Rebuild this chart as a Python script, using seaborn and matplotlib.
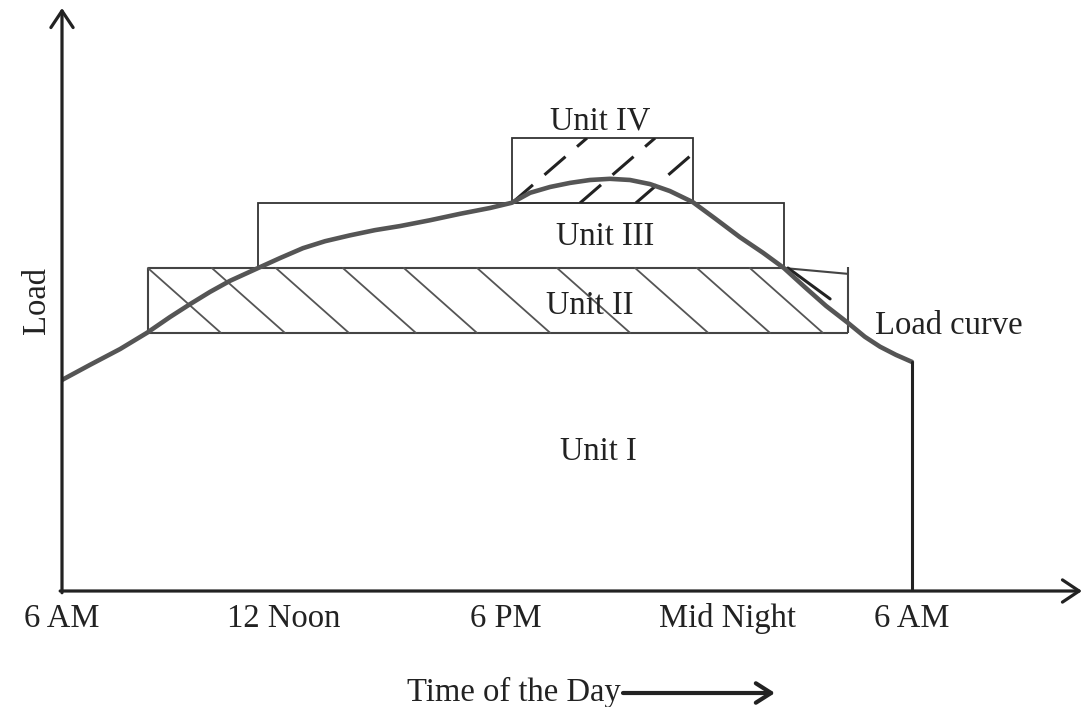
import numpy as np
import pandas as pd
import matplotlib
matplotlib.use('Agg')
import matplotlib.pyplot as plt
import seaborn as sns
from matplotlib.patches import Rectangle

# load curve, x in hours after 6 AM, y in % of axis height
curve_hour = [0.0, 0.76, 1.57, 2.30, 2.92, 3.46, 4.00, 4.54, 5.30, 5.89, 6.51, 7.11, 7.78,
              8.46, 9.14, 9.95, 10.76, 11.57, 12.16, 12.65, 13.19, 13.73, 14.27, 14.81, 15.35,
              15.89, 16.43, 17.05, 17.65, 18.32, 18.95, 19.51, 20.08, 20.65, 21.24, 21.70,
              22.11, 22.54, 22.97]
curve_load = [36.2, 38.8, 41.5, 44.3, 47.0, 49.2, 51.3, 53.2, 55.4, 57.1, 58.8, 60.0, 61.0,
              61.9, 62.6, 63.6, 64.7, 65.7, 66.6, 68.3, 69.3, 70.0, 70.5, 70.7, 70.5,
              69.8, 68.6, 66.7, 63.9, 60.7, 58.0, 55.4, 52.1, 48.9, 46.0, 43.6,
              41.9, 40.5, 39.3]

# unit blocks (Unit II, III, IV); Unit I is everything below the curve
block_names = ['Unit II', 'Unit III', 'Unit IV']
block_start = [2.32, 5.30, 12.16]
block_end = [21.24, 19.51, 17.05]
block_low = [44.3, 55.4, 66.55]
block_high = [55.4, 66.55, 77.7]

# hatch lines (where each stroke starts along the block edge)
hatch2_top = [2.32, 4.05, 5.78, 7.59, 9.24, 11.22, 13.38, 15.49, 17.16, 18.59]
hatch4_base = [12.16, 14.0, 15.51]

tick_pos = [0, 6, 12, 18, 22.97]
tick_labels = ['6 AM', '12 Noon', '6 PM', 'Mid Night', '6 AM']

sns.set_theme(style='white')
plt.rcParams['font.family'] = ['Liberation Serif', 'DejaVu Serif']
plt.rcParams['lines.scale_dashes'] = False
fs = 23.5
ink = '#222222'

fig = plt.figure(figsize=(10.89, 7.07), dpi=100)
W, H = 1089, 707
ax = fig.add_axes([62 / W, (H - 591) / H, (1082 - 62) / W, (591 - 8) / H])
ax.set_xlim(0, (1082 - 62) / 37)
ax.set_ylim(0, 100)
for s in ax.spines.values():
    s.set_visible(False)

# axes as arrows
arr = dict(arrowstyle='->,head_length=0.6,head_width=0.4', lw=2.3, color=ink,
           shrinkA=0, shrinkB=0, mutation_scale=20)
ax.annotate('', xy=(0, 100), xytext=(0, -0.3), arrowprops=arr, annotation_clip=False)
ax.annotate('', xy=(ax.get_xlim()[1], 0), xytext=(-0.05, 0), arrowprops=arr, annotation_clip=False)

# unit blocks
box_kw = dict(color='#444444', lw=1.5, solid_capstyle='butt')
# Unit II outline (hand drawn, top right corner is slightly skewed)
x0, x1, y0, y1 = block_start[0], block_end[0], block_low[0], block_high[0]
ax.plot([x0, x1], [y0, y0], **box_kw)
ax.plot([x0, x0], [y0, y1], **box_kw)
ax.plot([x0, block_end[1]], [y1, y1], **box_kw)
ax.plot([block_end[1], x1], [y1, y1 - 1.0], **box_kw)
ax.plot([x1, x1], [y0, y1 + 0.2], **box_kw)
for i in [1, 2]:
    ax.add_patch(Rectangle((block_start[i], block_low[i]), block_end[i] - block_start[i],
                           block_high[i] - block_low[i], fill=False, ec='#333333', lw=1.3))

# Unit II hatch
for t in hatch2_top:
    ax.plot([t, t + 1.97], [y1, y0], color='#555555', lw=1.3)
ax.plot([19.62, 20.76], [55.4, 50.1], color=ink, lw=2.2)

# Unit IV dashed hatch
bx0, bx1, by0, by1 = block_start[2], block_end[2], block_low[2], block_high[2]
clip = Rectangle((bx0, by0), bx1 - bx0, by1 - by0, transform=ax.transData, fill=False)
for b in hatch4_base:
    ln, = ax.plot([b, b + 2.03], [by0, by1], color=ink, lw=2.2, dashes=(20, 11))
    ln.set_clip_path(clip)

# load curve
sns.lineplot(x=curve_hour, y=curve_load, ax=ax, color='#555555', lw=3.3, sort=False,
             estimator=None, solid_joinstyle='round', solid_capstyle='round')
ax.plot([curve_hour[-1], curve_hour[-1]], [0, curve_load[-1]], color=ink, lw=2.2)

# labels
tk = dict(fontsize=fs, color=ink, ha='center', va='center')
ax.text(14.54, 80.6, 'Unit IV', **tk)
ax.text(14.68, 60.7, 'Unit III', **tk)
ax.text(14.27, 48.9, 'Unit II', **tk)
ax.text(14.49, 23.8, 'Unit I', **tk)
ax.text(21.97, 45.5, 'Load curve', fontsize=fs, color=ink, ha='left', va='center')

ax.set_xticks(tick_pos)
ax.set_xticklabels(tick_labels, fontsize=fs, color=ink)
ax.set_yticks([])
ax.tick_params(axis='x', length=0, pad=9)

fig.text(37 / W, 1 - 300 / H, 'Load', rotation=90, fontsize=fs, color=ink, ha='center', va='center')
fig.text(407 / W, 1 - 692 / H, 'Time of the Day', fontsize=fs, color=ink, ha='left', va='center')
ax.annotate('', xy=(775 / W, 1 - 693 / H), xytext=(623 / W, 1 - 693 / H),
            xycoords='figure fraction', textcoords='figure fraction',
            arrowprops=dict(arrowstyle='->,head_length=0.55,head_width=0.35', lw=3, color=ink,
                            shrinkA=0, shrinkB=0, mutation_scale=20))

fig.savefig('out.png', dpi=100)
